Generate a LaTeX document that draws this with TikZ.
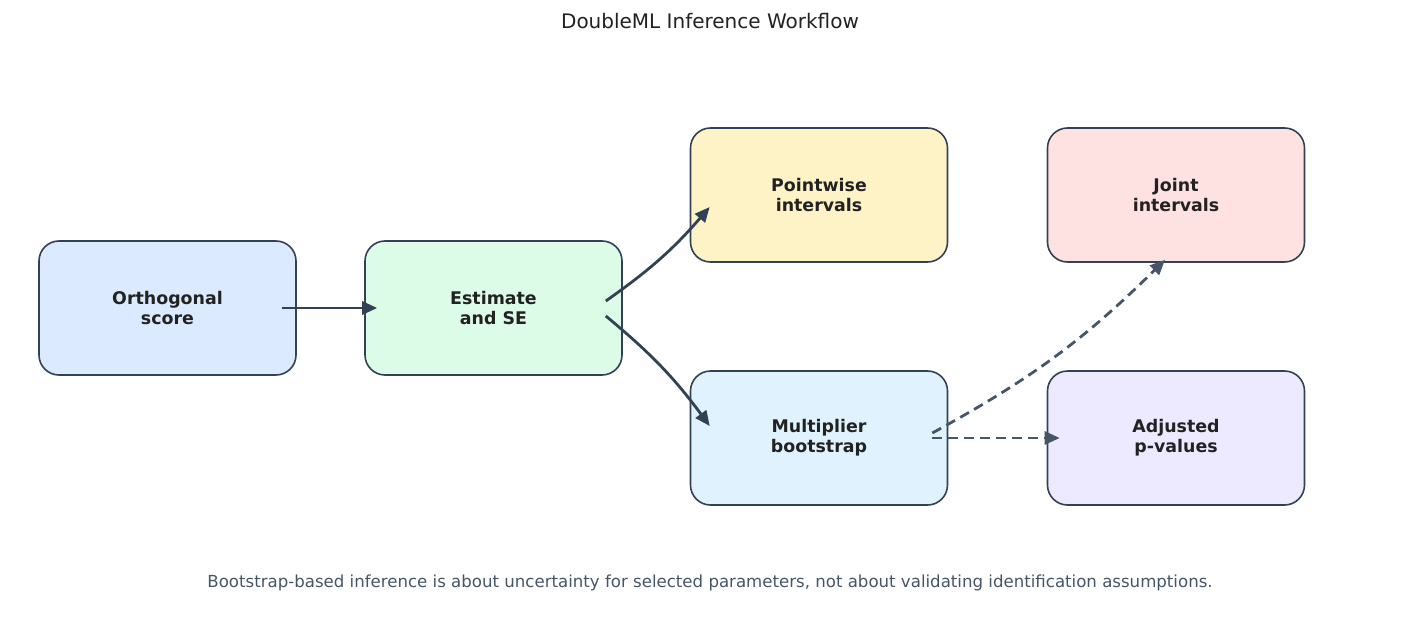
\documentclass[tikz,border=0pt]{standalone}
\usepackage{fontspec}
\setmainfont{DejaVu Sans}
\usetikzlibrary{arrows.meta,calc}
\definecolor{edgec}{HTML}{334155}
\definecolor{dashc}{HTML}{475569}
\definecolor{txtc}{HTML}{222222}
\definecolor{footc}{HTML}{475569}
\definecolor{cA}{HTML}{DBEAFE}
\definecolor{cB}{HTML}{DCFCE7}
\definecolor{cC}{HTML}{FEF3C7}
\definecolor{cD}{HTML}{FEE2E2}
\definecolor{cE}{HTML}{E0F2FE}
\definecolor{cF}{HTML}{EDE9FE}
\tikzset{
  stepbox/.style={draw=edgec, line width=1.6pt, rounded corners=20pt,
    minimum width=257pt, minimum height=134pt, inner sep=0pt,
    align=center, font=\fontsize{17.4}{20}\selectfont\bfseries, text=txtc},
  solidarrow/.style={draw=edgec, line width=2.8pt, -{Triangle[length=15pt,width=13pt]}},
  dasharrow/.style={draw=dashc, line width=2.8pt, dash pattern=on 10pt off 6pt, -{Triangle[length=15pt,width=13pt]}},
}
\begin{document}
\begin{tikzpicture}[x=1pt,y=-1pt]
\useasboundingbox[fill=white] (0,0) rectangle (1420,628);
\node[font=\fontsize{20}{22}\selectfont, text=txtc] (title) at (710,21) {DoubleML Inference Workflow};
\node[stepbox, fill=cA] (orth) at (167.5,308) {Orthogonal\\score};
\node[stepbox, fill=cB] (est) at (493.5,308) {Estimate\\and SE};
\node[stepbox, fill=cC] (pw) at (819,195) {Pointwise\\intervals};
\node[stepbox, fill=cD] (joint) at (1176,195) {Joint\\intervals};
\node[stepbox, fill=cE] (mult) at (819,438) {Multiplier\\bootstrap};
\node[stepbox, fill=cF] (adj) at (1176,438) {Adjusted\\p-values};
\node[font=\fontsize{16.6}{18}\selectfont, text=footc] (foot) at (710,583) {Bootstrap-based inference is about uncertainty for selected parameters, not about validating identification assumptions.};
\draw[solidarrow] ([xshift=-15pt]orth.east) -- ([xshift=13pt]est.west);
\draw[solidarrow] ($(est.east)+(-17,-7)$) to[bend right=7] ($(pw.west)+(20,12)$);
\draw[solidarrow] ($(est.east)+(-17,8)$) to[bend left=7] ($(mult.west)+(20,-12)$);
\draw[dasharrow] ($(mult.east)+(-16,-5)$) to[bend right=8] ($(joint.south)+(-11,-3)$);
\draw[dasharrow] ($(mult.east)+(-16,0)$) -- ($(adj.west)+(13,0)$);
\end{tikzpicture}
\end{document}
